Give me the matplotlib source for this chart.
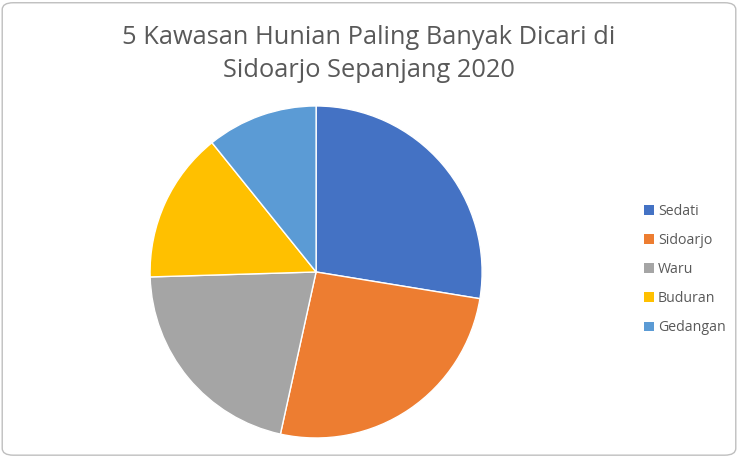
import matplotlib.pyplot as plt
from matplotlib.patches import FancyBboxPatch, Patch

areas = ['Sedati', 'Sidoarjo', 'Waru', 'Buduran', 'Gedangan']
shares = [27.6, 25.9, 21.1, 14.7, 10.8]
colors = ['#4472C4', '#ED7D31', '#A5A5A5', '#FFC000', '#5B9BD5']

plt.rcParams['font.family'] = ['Open Sans', 'DejaVu Sans']

fig = plt.figure(figsize=(7.38, 4.57), dpi=100)

# rounded chart border
border = FancyBboxPatch((0.003, 0.004), 0.994, 0.99, boxstyle='round,pad=0,rounding_size=0.015',
                        transform=fig.transFigure, fill=False, edgecolor='#BFBFBF', linewidth=1)
fig.patches.append(border)

fig.text(0.5, 0.882, '5 Kawasan Hunian Paling Banyak Dicari di\nSidoarjo Sepanjang 2020',
         ha='center', va='center', fontsize=18.3, color='#595959', linespacing=1.45)

ax = fig.add_axes([0.2033, 0.0416, 0.45, 0.7265])
ax.pie(shares, colors=colors, startangle=90, counterclock=False,
       wedgeprops=dict(edgecolor='white', linewidth=1))
ax.set_xlim(-1, 1)
ax.set_ylim(-1, 1)
ax.set_aspect('equal')

handles = [Patch(facecolor=c, edgecolor='none') for c in colors]
fig.legend(handles, areas, loc='center left', bbox_to_anchor=(0.855, 0.41),
           frameon=False, fontsize=10.2, labelcolor='#595959',
           handlelength=0.7, handleheight=0.7, handletextpad=0.3, labelspacing=1.0)

fig.savefig('out.png', dpi=100)
